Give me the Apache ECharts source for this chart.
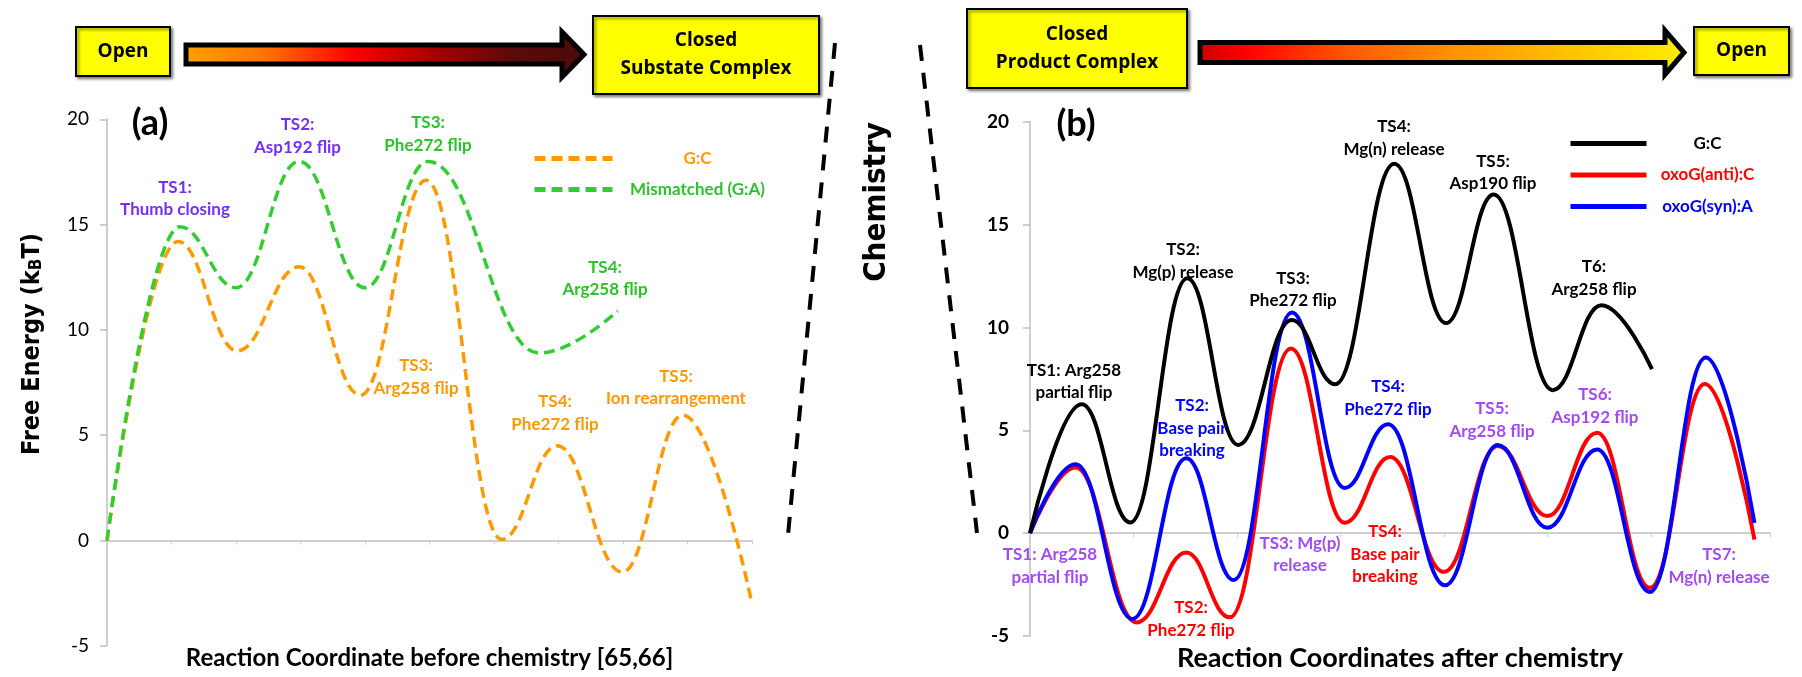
<!DOCTYPE html>
<html><head><meta charset="utf-8">
<script src="https://cdn.jsdelivr.net/npm/echarts@6/dist/echarts.min.js"></script>
<style>html,body{margin:0;padding:0;background:#fff}#c{width:1802px;height:677px}</style>
</head><body><div id="c"></div>
<script>
// ---------- data ----------
const yTickValues = [-5, 0, 5, 10, 15, 20];
// panel (a): before chemistry
const gcBefore_x = [0, 1.1, 2.02, 2.98, 3.93, 4.95, 6.12, 6.98, 7.99, 8.93, 10];
const gcBefore_y = [0, 14.2, 9.0, 13.0, 6.9, 17.1, 0.05, 4.5, -1.5, 5.95, -3];
const mismatch_x = [0, 1.13, 2.0, 2.98, 4.0, 4.98, 6.7, 7.92];
const mismatch_y = [0, 14.9, 12.0, 18.0, 12.0, 18.0, 8.9, 10.9];
// panel (b): after chemistry
const gcAfter_x = [0, 0.5, 0.97, 1.52, 2.01, 2.53, 2.95, 3.52, 4.02, 4.48, 5.05, 5.52, 6.01];
const gcAfter_y = [0, 6.26, 0.52, 12.39, 4.29, 10.36, 7.24, 17.95, 10.21, 16.46, 6.95, 11.08, 7.97];
const oxoAnti_x = [0, 0.44, 1.03, 1.51, 1.93, 2.52, 3.04, 3.48, 4.0, 4.52, 5.0, 5.48, 5.99, 6.52, 7.0];
const oxoAnti_y = [0, 3.19, -4.34, -0.94, -4.09, 8.98, 0.5, 3.7, -1.88, 4.24, 0.83, 4.88, -2.66, 7.25, -0.31];
const oxoSyn_x = [0, 0.44, 0.99, 1.51, 1.97, 2.53, 3.04, 3.46, 4.01, 4.52, 5.0, 5.48, 5.99, 6.53, 7.0];
const oxoSyn_y = [0, 3.35, -4.17, 3.64, -2.28, 10.73, 2.2, 5.29, -2.53, 4.28, 0.26, 4.07, -2.86, 8.54, 0.5];
const leftNames = ['G:C', 'Mismatched (G:A)'];
const rightNames = ['G:C ', 'oxoG(anti):C', 'oxoG(syn):A'];

// ---------- styling ----------
const FONT = 'Lato';
const C = {orange:'#FF9900', green:'#33CC33', greenText:'#2EC12E', violet:'#7430F2', purple:'#A24BF2',
           red:'#FF0000', blue:'#0000FF', black:'#000000'};
function zip(xs, ys){ return xs.map((x, i) => [x, ys[i]]); }

const chart = echarts.init(document.getElementById('c'), null, {renderer:'canvas', width:1802, height:677});

function yAxisCfg(gi, bold, margin){
  return {type:'value', gridIndex:gi, min:-5, max:20, interval:5,
    axisLine:{show:true, lineStyle:{color:'#BFBFBF', width:1.5}},
    axisTick:{show:true, length:7, lineStyle:{color:'#BFBFBF', width:1.5}},
    splitLine:{show:false},
    axisLabel:{color:'#000', fontFamily:FONT, fontSize:19, fontWeight: bold ? 'bold' : 'normal', margin:margin,
      customValues: yTickValues}
  };
}
function xAxisCfg(gi, max, name, fs, gap){
  return {type:'value', gridIndex:gi, min:0, max:max, interval:1,
    axisLine:{show:true, onZero:true, lineStyle:{color:'#BFBFBF', width:1.5}},
    axisTick:{show:true, length:4, lineStyle:{color:'#CFCFCF'}},
    axisLabel:{show:false}, splitLine:{show:false},
    name:name, nameLocation:'middle', nameGap:gap,
    nameTextStyle:{color:'#000', fontFamily:FONT, fontSize:fs, fontWeight:'bold'}
  };
}
function lineSeries(name, xs, ys, gi, color, width, dash, z){
  return {name:name, type:'line', xAxisIndex:gi, yAxisIndex:gi, data:zip(xs, ys),
    smooth:0.42, smoothMonotone:'x', symbol:'none', showSymbol:false, z:z,
    lineStyle:{color:color, width:width, type: dash || 'solid', cap:'butt'},
    itemStyle:{color:color}, emphasis:{disabled:true}};
}

const graphics = [];
function text(str, x, y, color, size, opts){
  opts = opts || {};
  graphics.push({type:'text', x:x, y:y, rotation: opts.rotation || 0, z:100,
    style:{text:str, fill:color, font: (opts.weight||'bold') + ' ' + size + 'px ' + (opts.family||FONT),
      align:'center', verticalAlign:'middle', lineHeight: opts.lh || Math.round(size*1.3), rich: opts.rich}});
}
function box(x, y, w, h, label){
  graphics.push({type:'rect', shape:{x:x, y:y, width:w, height:h}, z:50,
    style:{fill:'#FFFF00', stroke:'#000', lineWidth:2, shadowBlur:3, shadowOffsetX:2, shadowOffsetY:2, shadowColor:'rgba(0,0,0,0.45)'}});
  text(label, x + w/2, y + h/2, '#000', 19, {family:'Open Sans', lh:28});
}
function arrow(x0, x1, xTip, yc, hb, hh, stops){
  graphics.push({type:'polygon', z:50,
    shape:{points:[[x0,yc-hb],[x1,yc-hb],[x1,yc-hh],[xTip,yc],[x1,yc+hh],[x1,yc+hb],[x0,yc+hb]]},
    style:{fill:new echarts.graphic.LinearGradient(0,0,1,0, stops), stroke:'#000', lineWidth:5, lineJoin:'miter'}});
}
function dashed(x1, y1, x2, y2){
  graphics.push({type:'line', z:50, shape:{x1:x1, y1:y1, x2:x2, y2:y2},
    style:{stroke:'#000', lineWidth:4, lineDash:[16, 12]}});
}

// banner
box(76, 27, 94, 49, 'Open');
arrow(186, 562, 584, 54.5, 9.5, 22.5, [
  {offset:0, color:'#FFA200'}, {offset:0.2, color:'#FF7400'}, {offset:0.42, color:'#FF0000'},
  {offset:0.62, color:'#A80000'}, {offset:0.82, color:'#5C0A0A'}, {offset:1, color:'#4A0A0A'}]);
box(593, 16, 226, 78, 'Closed\nSubstate Complex');
box(967, 9, 220, 79, 'Closed\nProduct Complex');
arrow(1200, 1665, 1684, 52.5, 10, 22, [
  {offset:0, color:'#CC0000'}, {offset:0.1, color:'#FF0000'}, {offset:0.3, color:'#FF5500'},
  {offset:0.5, color:'#FF8C00'}, {offset:0.75, color:'#FFC000'}, {offset:1, color:'#FFEE00'}]);
box(1694, 27, 95, 48, 'Open');

// chemistry separators
dashed(835, 43, 788, 535);
dashed(920, 45, 977, 533);
text('Chemistry', 877, 202, '#000', 31, {family:'DejaVu Sans Condensed', rotation:Math.PI/2});

// panel letters and y title
text('(a)', 150, 123, '#000', 36);
text('(b)', 1076, 124, '#000', 36);
text('Free Energy (k{s|B}T)', 32, 344, '#000', 25, {family:'DejaVu Sans Condensed', rotation:Math.PI/2,
  rich:{s:{font:'bold 17px DejaVu Sans Condensed', fill:'#000', padding:[10,0,0,0]}}});

// annotations, panel (a)
const annoA = [
  ['TS1:\nThumb closing', 175, 198.5, C.violet],
  ['TS2:\nAsp192 flip', 297.5, 136, C.violet],
  ['TS3:\nPhe272 flip', 428, 134, C.greenText],
  ['TS4:\nArg258 flip', 605, 278.5, C.greenText],
  ['TS3:\nArg258 flip', 416, 377, C.orange],
  ['TS4:\nPhe272 flip', 555, 413, C.orange],
  ['TS5:\nIon rearrangement', 676, 387.5, C.orange]
];
// annotations, panel (b)
const annoB = [
  ['TS1: Arg258\npartial flip', 1074, 381.5, C.black],
  ['TS2:\nMg(p) release', 1183, 261, C.black],
  ['TS3:\nPhe272 flip', 1293, 289.5, C.black],
  ['TS4:\nMg(n) release', 1394, 138, C.black],
  ['TS5:\nAsp190 flip', 1493, 172.5, C.black],
  ['T6:\nArg258 flip', 1594, 278, C.black],
  ['TS2:\nBase pair\nbreaking', 1192, 428.5, C.blue],
  ['TS1: Arg258\npartial flip', 1050, 566, C.purple],
  ['TS2:\nPhe272 flip', 1191, 619, C.red],
  ['TS3: Mg(p)\nrelease', 1300, 554.5, C.purple],
  ['TS4:\nPhe272 flip', 1388, 398, C.blue],
  ['TS4:\nBase pair\nbreaking', 1385, 554.5, C.red],
  ['TS5:\nArg258 flip', 1492, 420, C.purple],
  ['TS6:\nAsp192 flip', 1595, 406, C.purple],
  ['TS7:\nMg(n) release', 1719, 566, C.purple]
];
annoA.concat(annoB).forEach(a => text(a[0], a[1], a[2], a[3], 17, {lh:22.5}));

const legendCommon = {orient:'vertical', itemHeight:20, selectedMode:false,
  lineStyle:{width:5}, itemStyle:{opacity:0, borderWidth:0},
  formatter: n => '{a|' + n.trim() + '}'};

const option = {
  animation:false,
  backgroundColor:'#fff',
  grid:[
    {left:107, top:119.3, width:645, height:526.4, containLabel:false, outerBoundsMode:'none'},
    {left:1030, top:121.7, width:740, height:514.3, containLabel:false, outerBoundsMode:'none'}
  ],
  xAxis:[
    xAxisCfg(0, 10, 'Reaction Coordinate before chemistry [65,66]', 24, 1),
    xAxisCfg(1, 7.15, 'Reaction Coordinates after chemistry', 27, 9)
  ],
  yAxis:[yAxisCfg(0, false, 18), yAxisCfg(1, true, 21)],
  legend:[
    Object.assign({}, legendCommon, {
     data:[{name:leftNames[0], textStyle:{color:C.orange}}, {name:leftNames[1], textStyle:{color:C.greenText}}],
     left:527, top:145, itemWidth:78, itemGap:14,
     textStyle:{fontFamily:FONT, fontSize:17, fontWeight:'bold', rich:{a:{width:160, align:'center', fontFamily:FONT, fontSize:17, fontWeight:'bold'}}}}),
    Object.assign({}, legendCommon, {
     data:[{name:rightNames[0], textStyle:{color:C.black}}, {name:rightNames[1], textStyle:{color:C.red}}, {name:rightNames[2], textStyle:{color:C.blue}}],
     left:1563, top:130, itemWidth:76, itemGap:14.5,
     textStyle:{fontFamily:FONT, fontSize:17, fontWeight:'bold', rich:{a:{width:112, align:'center', fontFamily:FONT, fontSize:17, fontWeight:'bold'}}}})
  ],
  series:[
    lineSeries(leftNames[0], gcBefore_x, gcBefore_y, 0, C.orange, 3.5, [11, 6], 2),
    lineSeries(leftNames[1], mismatch_x, mismatch_y, 0, C.green, 3.5, [11, 6], 3),
    lineSeries(rightNames[1], oxoAnti_x, oxoAnti_y, 1, C.red, 4, null, 2),
    lineSeries(rightNames[2], oxoSyn_x, oxoSyn_y, 1, C.blue, 4, null, 3),
    lineSeries(rightNames[0], gcAfter_x, gcAfter_y, 1, C.black, 4, null, 4)
  ],
  graphic: graphics
};
chart.setOption(option);
</script></body></html>
